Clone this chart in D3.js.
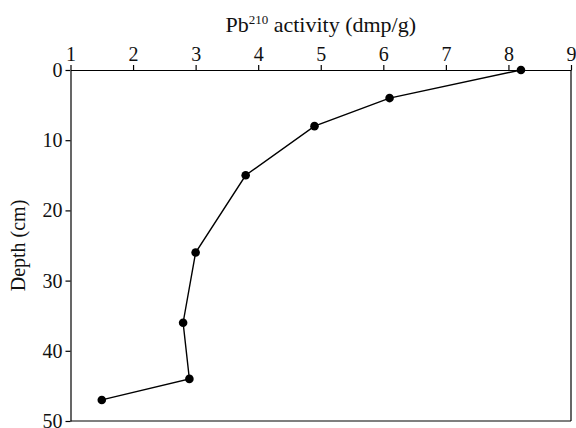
<!DOCTYPE html>
<html>
<head>
<meta charset="utf-8">
<script src="https://cdn.jsdelivr.net/npm/d3@7"></script>
<style>
  body { margin: 0; background: #fff; }
  svg text { font-family: "Liberation Serif", "Times New Roman", Times, "DejaVu Serif", serif; fill: #111; }
</style>
</head>
<body>
<div id="chart"></div>
<script>
// Pb210 activity profile with depth
const activity = [8.2, 6.1, 4.9, 3.8, 3.0, 2.8, 2.9, 1.5];
const depth = [0, 4, 8, 15, 26, 36, 44, 47];
const xTicks = [1, 2, 3, 4, 5, 6, 7, 8, 9];
const yTicks = [0, 10, 20, 30, 40, 50];

const width = 576, height = 428;
const margin = { top: 70, right: 5, bottom: 7, left: 70.5 };
const serif = '"Liberation Serif", "Times New Roman", Times, "DejaVu Serif", serif';

const svg = d3.select("#chart").append("svg")
    .attr("width", width)
    .attr("height", height)
    .style("font-family", serif);

const x = d3.scaleLinear().domain([1, 9]).range([margin.left, width - margin.right]);
const y = d3.scaleLinear().domain([0, 50]).range([margin.top, height - margin.bottom]);

// box: right and bottom borders
svg.append("line")
    .attr("x1", x(9)).attr("x2", x(9))
    .attr("y1", y(0)).attr("y2", y(50))
    .attr("stroke", "#000").attr("stroke-width", 1.2);
svg.append("line")
    .attr("x1", x(1)).attr("x2", x(9))
    .attr("y1", y(50)).attr("y2", y(50))
    .attr("stroke", "#000").attr("stroke-width", 1.2);

// top axis
const xAxis = svg.append("g")
    .attr("transform", `translate(0,${y(0)})`)
    .call(d3.axisTop(x).tickValues(xTicks).tickFormat(d3.format("d")).tickSize(5).tickPadding(4).tickSizeOuter(0));

// left axis
const yAxis = svg.append("g")
    .attr("transform", `translate(${x(1)},0)`)
    .call(d3.axisLeft(y).tickValues(yTicks).tickSize(5).tickPadding(3).tickSizeOuter(0));

[xAxis, yAxis].forEach(g => {
    g.attr("font-family", null).attr("font-size", null);
    g.select(".domain").attr("stroke", "#000").attr("stroke-width", 1.2);
    g.selectAll(".tick line").attr("stroke", "#000").attr("stroke-width", 1.2);
    g.selectAll(".tick text")
        .style("font-family", serif)
        .style("font-size", "20px")
        .attr("fill", "#111");
});

// title
const title = svg.append("text")
    .attr("x", (x(1) + x(9)) / 2)
    .attr("y", 32)
    .attr("text-anchor", "middle")
    .style("font-size", "22px");
title.append("tspan").text("Pb");
title.append("tspan").style("font-size", "13px").attr("dy", -8).text("210");
title.append("tspan").attr("dy", 8).text(" activity (dmp/g)");

// y label
svg.append("text")
    .attr("transform", `translate(25,${(y(0) + y(50)) / 2}) rotate(-90)`)
    .attr("text-anchor", "middle")
    .style("font-size", "20px")
    .text("Depth (cm)");

const data = activity.map((a, i) => ({ a: a, d: depth[i] }));

const line = d3.line().x(d => x(d.a)).y(d => y(d.d));

svg.append("path")
    .datum(data)
    .attr("d", line)
    .attr("fill", "none")
    .attr("stroke", "#000")
    .attr("stroke-width", 1.4);

svg.append("g")
    .selectAll("circle")
    .data(data)
    .enter().append("circle")
    .attr("cx", d => x(d.a))
    .attr("cy", d => y(d.d))
    .attr("r", 4.3)
    .attr("fill", "#000");
</script>
</body>
</html>
